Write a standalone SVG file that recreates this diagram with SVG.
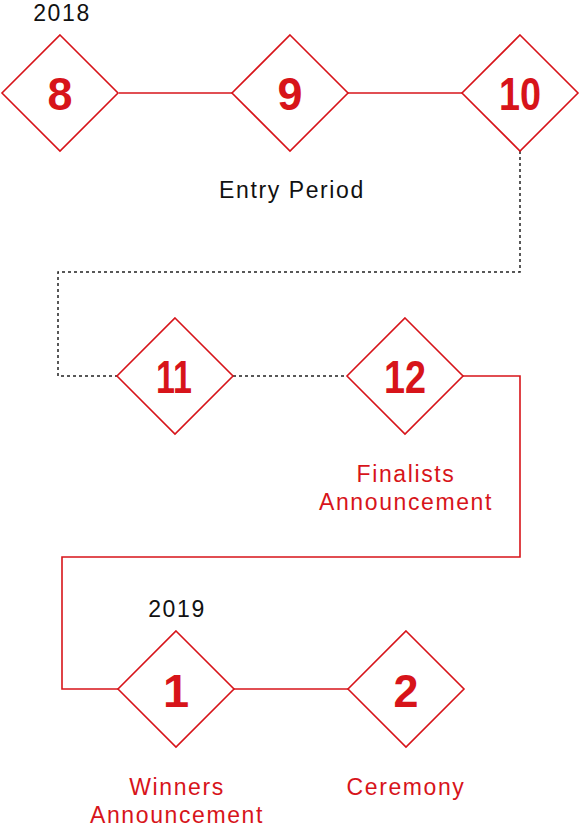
<svg xmlns="http://www.w3.org/2000/svg" width="581" height="830" viewBox="0 0 581 830">
<style>
.d{fill:#fff;stroke:#d7141a;stroke-width:1.6}
.n{font-family:"Liberation Sans",Arial,sans-serif;font-weight:bold;font-size:47px;fill:#d7141a;text-anchor:middle}
.t{font-family:"Liberation Sans",Arial,sans-serif;font-size:23px;letter-spacing:1.6px;text-anchor:middle}
.k{fill:#111}
.r{fill:#d7141a}
.s{fill:none;stroke:#d7141a;stroke-width:1.6}
.o{fill:none;stroke:#222;stroke-width:1.5;stroke-dasharray:3 3}
</style>
<g id="connectors">
<line class="s" x1="119" y1="93" x2="232" y2="93"/>
<line class="s" x1="348" y1="93" x2="462" y2="93"/>
<polyline class="o" points="520,151 520,272 58,272 58,376 117,376"/>
<line class="o" x1="233" y1="376" x2="347" y2="376"/>
<polyline class="s" points="463,376 520,376 520,557 62,557 62,689 118,689"/>
<line class="s" x1="234" y1="689" x2="348" y2="689"/>
</g>
<g id="node-8"><polygon class="d" points="60,35 118,93 60,151 2,93"/><text class="n" x="60" y="110" textLength="25" lengthAdjust="spacingAndGlyphs">8</text></g>
<g id="node-9"><polygon class="d" points="290,35 348,93 290,151 232,93"/><text class="n" x="290" y="110" textLength="25" lengthAdjust="spacingAndGlyphs">9</text></g>
<g id="node-10"><polygon class="d" points="520,35 578,93 520,151 462,93"/><text class="n" x="520" y="110" textLength="42" lengthAdjust="spacingAndGlyphs">10</text></g>
<g id="node-11"><polygon class="d" points="175,318 233,376 175,434 117,376"/><text class="n" x="174" y="393" textLength="36" lengthAdjust="spacingAndGlyphs">11</text></g>
<g id="node-12"><polygon class="d" points="405,318 463,376 405,434 347,376"/><text class="n" x="405" y="393" textLength="42" lengthAdjust="spacingAndGlyphs">12</text></g>
<g id="node-1"><polygon class="d" points="176,631 234,689 176,747 118,689"/><text class="n" x="176" y="707">1</text></g>
<g id="node-2"><polygon class="d" points="406,631 464,689 406,747 348,689"/><text class="n" x="406" y="707" textLength="25" lengthAdjust="spacingAndGlyphs">2</text></g>
<g id="labels">
<text class="t k" x="62" y="21">2018</text>
<text class="t k" x="292" y="198">Entry Period</text>
<text class="t r" x="406" y="482">Finalists</text>
<text class="t r" x="406" y="510">Announcement</text>
<text class="t k" x="177" y="617">2019</text>
<text class="t r" x="177" y="795">Winners</text>
<text class="t r" x="177" y="823">Announcement</text>
<text class="t r" x="406" y="795">Ceremony</text>
</g>
</svg>
